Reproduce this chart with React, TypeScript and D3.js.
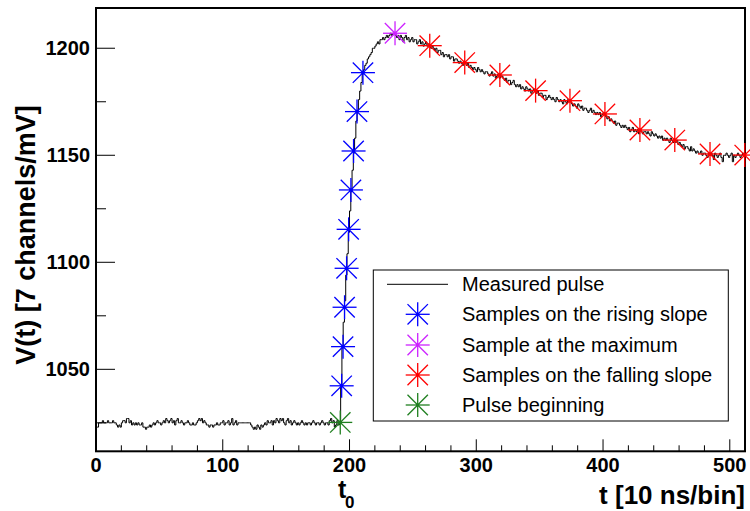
import React from "react";
import * as d3 from "d3";

// Measured pulse, one value per 10 ns bin (bins 0..511)
const baseline: number[] = [
  1023, 1023, 1025, 1025, 1025, 1026, 1025, 1025, 1025, 1026,
  1025, 1025, 1025, 1026, 1025, 1025, 1024, 1023, 1024, 1023,
  1025, 1026, 1026, 1025, 1027, 1027, 1025, 1026, 1024, 1025,
  1024, 1025, 1024, 1025, 1024, 1024, 1025, 1023, 1023, 1022,
  1023, 1023, 1024, 1023, 1024, 1025, 1024, 1025, 1026, 1025,
  1025, 1024, 1025, 1026, 1025, 1027, 1026, 1025, 1026, 1027,
  1025, 1026, 1024, 1026, 1027, 1025, 1025, 1026, 1025, 1024,
  1025, 1025, 1026, 1025, 1024, 1024, 1025, 1024, 1024, 1025,
  1026, 1027, 1026, 1027, 1025, 1026, 1025, 1024, 1024, 1023,
  1024, 1024, 1023, 1024, 1024, 1025, 1024, 1024, 1025, 1025,
  1026, 1024, 1025, 1025, 1026, 1024, 1025, 1027, 1024, 1025,
  1026, 1024, 1025, 1025, 1025, 1025, 1025, 1025, 1025, 1025,
  1025, 1025, 1024, 1023, 1022, 1023, 1022, 1024, 1023, 1022,
  1024, 1023, 1024, 1025, 1024, 1026, 1025, 1025, 1026, 1024,
  1026, 1025, 1027, 1026, 1025, 1027, 1026, 1027, 1025, 1024,
  1026, 1027, 1025, 1026, 1024, 1025, 1026, 1025, 1024, 1025,
  1024, 1025, 1026, 1025, 1024, 1025, 1024, 1025, 1025, 1024,
  1025, 1026, 1025, 1024, 1025, 1025, 1024, 1025, 1026, 1025,
  1024, 1025, 1025, 1024, 1026, 1027, 1025, 1026, 1023, 1024,
];

const rising: number[] = [
  1026, 1024, 1025, 1042, 1060, 1072, 1082, 1094, 1104, 1114,
  1124, 1133, 1143, 1151, 1158, 1166, 1171, 1176, 1180, 1184,
  1188, 1190, 1192, 1193, 1195, 1196, 1197, 1198, 1200, 1200,
  1201, 1202, 1203, 1202, 1204, 1204, 1205, 1204, 1205, 1206,
  1205, 1206, 1207, 1206, 1207, 1207,
];

const falling: number[] = [
  1206, 1205, 1206, 1204, 1206, 1205, 1203, 1205, 1206, 1204,
  1205, 1203, 1204, 1205, 1203, 1204, 1204, 1202, 1203, 1204,
  1202, 1203, 1201, 1202, 1203, 1201, 1202, 1201, 1200, 1201,
  1200, 1199, 1200, 1198, 1199, 1199, 1197, 1198, 1196, 1197,
  1197, 1196, 1197, 1195, 1196, 1196, 1194, 1195, 1195, 1194,
  1193, 1194, 1193, 1192, 1194, 1193, 1192, 1193, 1191, 1192,
  1191, 1190, 1191, 1190, 1189, 1191, 1190, 1189, 1190, 1189,
  1188, 1189, 1189, 1188, 1187, 1188, 1189, 1187, 1188, 1186,
  1187, 1188, 1186, 1187, 1187, 1186, 1185, 1186, 1184, 1185,
  1185, 1183, 1184, 1185, 1183, 1182, 1183, 1182, 1183, 1181,
  1182, 1181, 1180, 1182, 1181, 1180, 1181, 1179, 1180, 1181,
  1180, 1179, 1180, 1178, 1179, 1179, 1177, 1178, 1178, 1176,
  1177, 1178, 1177, 1176, 1177, 1176, 1175, 1177, 1176, 1175,
  1176, 1175, 1174, 1176, 1175, 1174, 1176, 1175, 1175, 1174,
  1173, 1174, 1173, 1172, 1174, 1173, 1172, 1173, 1171, 1172,
  1172, 1171, 1170, 1171, 1172, 1170, 1171, 1170, 1169, 1170,
  1169, 1170, 1168, 1169, 1170, 1169, 1168, 1167, 1168, 1166,
  1167, 1166, 1165, 1166, 1164, 1165, 1165, 1164, 1163, 1164,
  1163, 1164, 1163, 1162, 1163, 1161, 1162, 1163, 1161, 1162,
  1161, 1162, 1160, 1162, 1161, 1160, 1161, 1161, 1160, 1161,
  1160, 1159, 1161, 1160, 1159, 1160, 1159, 1158, 1159, 1158,
  1159, 1157, 1158, 1157, 1158, 1157, 1156, 1158, 1157, 1156,
  1157, 1156, 1157, 1155, 1156, 1155, 1154, 1155, 1153, 1154,
  1154, 1153, 1152, 1154, 1152, 1153, 1152, 1151, 1152, 1151,
  1151, 1152, 1150, 1151, 1151, 1150, 1149, 1151, 1150, 1151,
  1150, 1148, 1151, 1150, 1149, 1150, 1151, 1149, 1147, 1150,
  1150, 1151, 1150, 1149, 1150, 1151, 1147, 1150, 1149, 1150,
  1151, 1150, 1149, 1150, 1151, 1150,
];

// Sample markers
const riseT = [193.8, 194.9, 196.1, 197.7, 199.3, 201.1, 203.2, 205.9, 210.6];
const riseV = [1042.3, 1060.6, 1079.0, 1097.2, 1115.4, 1133.8, 1152.0, 1170.4, 1188.6];
const maxT = [235.9];
const maxV = [1207.0];
const fallT = [263.3, 290.9, 318.6, 346.8, 373.9, 401.5, 429.1, 456.6, 484.4, 511.8];
const fallV = [1201.2, 1193.3, 1187.5, 1180.2, 1175.5, 1169.3, 1161.8, 1157.1, 1150.6, 1150.1];
const startT = [192.7];
const startV = [1025.2];

const xMajor = [0, 100, 200, 300, 400, 500];
const yMajor = [1050, 1100, 1150, 1200];

const legendLabels = [
  "Measured pulse",
  "Samples on the rising slope",
  "Sample at the maximum",
  "Samples on the falling slope",
  "Pulse beginning",
];

const W = 750;
const H = 511;
const FONT = "'Liberation Sans', Arial, Helvetica, sans-serif";
const COL_BLUE = "#0000ff";
const COL_MAG = "#cc22ff";
const COL_RED = "#ff0000";
const COL_GREEN = "#1f7f1f";

const left = 96, right = 745, top = 8, bottom = 451.3;
const x = d3.scaleLinear().domain([0, 512]).range([left, right]);
const y = d3.scaleLinear().domain([1011.7, 1218.8]).range([bottom, top]);

function Star({ cx, cy, color, r = 12 }: { cx: number; cy: number; color: string; r?: number }) {
  const d = r * 0.85;
  return (
    <g stroke={color} strokeWidth={1.3} fill="none">
      <line x1={cx - r} y1={cy} x2={cx + r} y2={cy} />
      <line x1={cx} y1={cy - r} x2={cx} y2={cy + r} />
      <line x1={cx - d} y1={cy - d} x2={cx + d} y2={cy + d} />
      <line x1={cx - d} y1={cy + d} x2={cx + d} y2={cy - d} />
      <circle cx={cx} cy={cy} r={1.8} fill={color} stroke="none" />
    </g>
  );
}

export default function App() {
  const pulse = [...baseline, ...rising, ...falling];
  const pts: [number, number][] = pulse.map((v, i) => [i, v]);
  pts.push([pulse.length, pulse[pulse.length - 1]]);
  const path = d3
    .line<[number, number]>()
    .x((d) => x(d[0]))
    .y((d) => y(d[1]))
    .curve(d3.curveStepAfter)(pts) as string;

  const xMinor = d3.range(0, 513, 20).filter((v) => v % 100 !== 0);
  const yMinor = [1025, 1075, 1125, 1175];

  const series = [
    { t: riseT, v: riseV, c: COL_BLUE },
    { t: maxT, v: maxV, c: COL_MAG },
    { t: fallT, v: fallV, c: COL_RED },
    { t: startT, v: startV, c: COL_GREEN },
  ];

  const legRows = [284.3, 314.3, 345, 375, 405];
  const legColors = [COL_BLUE, COL_MAG, COL_RED, COL_GREEN];

  return (
    <svg
      width={W}
      height={H}
      viewBox={`0 0 ${W} ${H}`}
      style={{ position: "absolute", left: 0, top: 0, background: "#fff" }}
      fontFamily={FONT}
    >
      <rect x={0} y={0} width={W} height={H} fill="#fff" />
      <defs>
        <clipPath id="plotclip">
          <rect x={left} y={top} width={right - left} height={bottom - top} />
        </clipPath>
      </defs>

      {/* ticks */}
      <g stroke="#000" strokeWidth={1}>
        {xMajor.map((v) => (
          <line key={"xM" + v} x1={x(v)} x2={x(v)} y1={bottom} y2={bottom - 12} />
        ))}
        {xMinor.map((v) => (
          <line key={"xm" + v} x1={x(v)} x2={x(v)} y1={bottom} y2={bottom - 6} />
        ))}
        {yMajor.map((v) => (
          <line key={"yM" + v} x1={left} x2={left + 19} y1={y(v)} y2={y(v)} />
        ))}
        {yMinor.map((v) => (
          <line key={"ym" + v} x1={left} x2={left + 10} y1={y(v)} y2={y(v)} />
        ))}
      </g>

      {/* histogram */}
      <path d={path} fill="none" stroke="#000" strokeWidth={1} clipPath="url(#plotclip)" />

      {/* frame */}
      <rect x={left} y={top} width={right - left} height={bottom - top} fill="none" stroke="#000" strokeWidth={2} />

      {/* markers */}
      {series.map((s, si) =>
        s.t.map((t, i) => <Star key={si + "-" + i} cx={x(t)} cy={y(s.v[i])} color={s.c} />)
      )}

      {/* tick labels */}
      <g fontSize={20} fontWeight="bold" fill="#000">
        {xMajor.map((v) => (
          <text key={"xl" + v} x={x(v)} y={472} textAnchor="middle">
            {v}
          </text>
        ))}
        {yMajor.map((v) => (
          <text key={"yl" + v} x={90} y={y(v) + 7} textAnchor="end">
            {v}
          </text>
        ))}
      </g>

      {/* axis titles */}
      <text x={745} y={504} textAnchor="end" fontSize={26} fontWeight="bold">
        t [10 ns/bin]
      </text>
      <text x={338} y={498} fontSize={25} fontWeight="bold">
        t
      </text>
      <text x={345} y={508} fontSize={17} fontWeight="bold">
        0
      </text>
      <text
        transform="translate(35,235) rotate(-90)"
        textAnchor="middle"
        fontSize={27}
        fontWeight="bold"
      >
        V(t) [7 channels/mV]
      </text>

      {/* legend */}
      <rect x={373.3} y={270} width={355} height={151} fill="#fff" stroke="#000" strokeWidth={1} />
      <line x1={387} x2={448} y1={legRows[0]} y2={legRows[0]} stroke="#000" strokeWidth={1} />
      {legColors.map((c, i) => (
        <Star key={"lg" + i} cx={417.7} cy={legRows[i + 1]} color={c} />
      ))}
      {legendLabels.map((l, i) => (
        <text key={"lt" + i} x={462} y={legRows[i] + 7} fontSize={20} fill="#000">
          {l}
        </text>
      ))}
    </svg>
  );
}
